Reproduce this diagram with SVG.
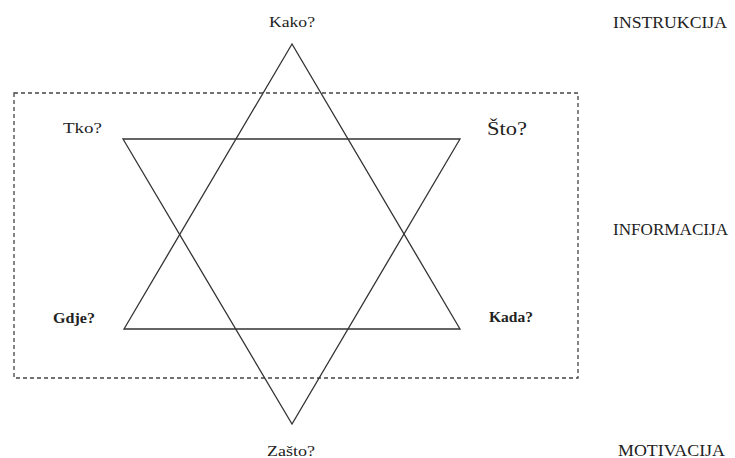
<svg xmlns="http://www.w3.org/2000/svg" width="735" height="458" viewBox="0 0 735 458">
<style>
.t{font-family:"Liberation Serif","Times New Roman",serif;fill:#222;font-size:15px;lengthAdjust:spacingAndGlyphs}
.c{font-size:16px}
.b{font-weight:bold}
.ln{fill:none;stroke:#333;stroke-width:1.3;stroke-linejoin:miter}
.box{fill:none;stroke:#444;stroke-width:1.3;stroke-dasharray:4 3}
</style>
<rect width="735" height="458" fill="#fff"/>
<g id="frame"><rect class="box" x="14" y="93" width="564" height="285"/></g>
<g id="connectors">
<polygon id="up-triangle" class="ln" points="292,44 124,329 460,329"/>
<polygon id="down-triangle" class="ln" points="123,139 460,139 292,424"/>
</g>
<g id="kako"><text class="t" x="292" y="27" text-anchor="middle" textLength="46" lengthAdjust="spacingAndGlyphs">Kako?</text></g>
<g id="tko"><text class="t" x="63" y="133" textLength="39" lengthAdjust="spacingAndGlyphs">Tko?</text></g>
<g id="sto"><text class="t" x="487" y="135" style="font-size:18px" textLength="40" lengthAdjust="spacingAndGlyphs">Što?</text></g>
<g id="gdje"><text class="t b" x="53" y="323" textLength="42" lengthAdjust="spacingAndGlyphs">Gdje?</text></g>
<g id="kada"><text class="t b" x="489" y="322" textLength="44" lengthAdjust="spacingAndGlyphs">Kada?</text></g>
<g id="zasto"><text class="t" x="291" y="456" text-anchor="middle" textLength="48" lengthAdjust="spacingAndGlyphs">Zašto?</text></g>
<g id="instrukcija"><text class="t c" x="613" y="28" textLength="114" lengthAdjust="spacingAndGlyphs">INSTRUKCIJA</text></g>
<g id="informacija"><text class="t c" x="613" y="235" textLength="115" lengthAdjust="spacingAndGlyphs">INFORMACIJA</text></g>
<g id="motivacija"><text class="t c" x="618" y="456" textLength="107" lengthAdjust="spacingAndGlyphs">MOTIVACIJA</text></g>
</svg>
